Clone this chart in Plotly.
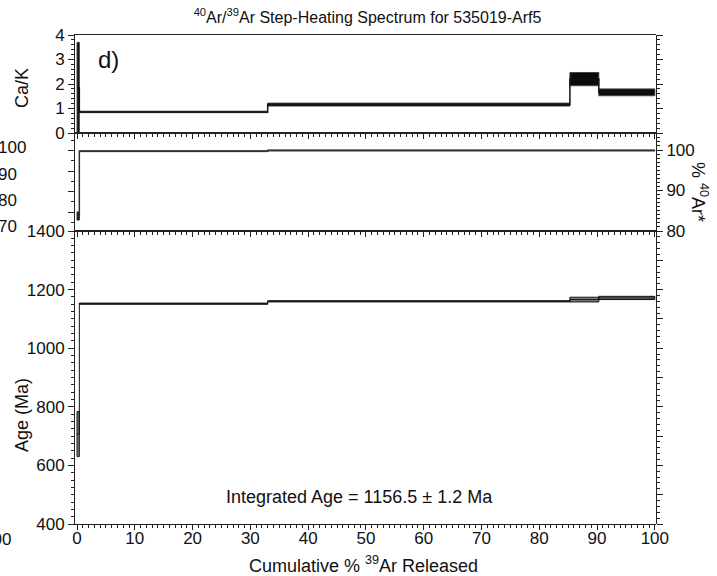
import plotly.graph_objects as go

# ---- data ----
cum_edges = [0.0, 0.4, 33.0, 85.3, 90.3, 100.0]   # cumulative % 39Ar released (step edges)
age_ma = [707, 1152, 1160, 1166, 1171.5]
age_err = [77, 2, 2, 8, 5.5]
pct_ar40 = [83.7, 99.7, 99.9, 99.9, 99.9]
pct_err = [1.0, 0.1, 0.1, 0.1, 0.1]
ca_k = [1.85, 0.86, 1.16, 2.2, 1.66]
ca_k_err = [1.85, 0.03, 0.06, 0.27, 0.14]
integrated_age = "Integrated Age = 1156.5 ± 1.2 Ma"

FONT = "Liberation Sans, Arial, sans-serif"
LINE = "#222222"


def boxes(edges, vals, errs):
    xs, ys = [], []
    for i, (v, e) in enumerate(zip(vals, errs)):
        x0, x1 = edges[i], edges[i + 1]
        lo, hi = v - e, v + e
        xs += [x0, x1, x1, x0, x0, None]
        ys += [lo, lo, hi, hi, lo, None]
    return xs, ys


def steps(edges, vals):
    return list(edges), list(vals) + [vals[-1]]


fig = go.Figure()

# Age panel (x, y)
bx, by = boxes(cum_edges, age_ma, age_err)
fig.add_trace(go.Scatter(x=bx, y=by, mode="lines", fill="toself", fillcolor="#808080",
                         line=dict(color="#111111", width=1), xaxis="x", yaxis="y", hoverinfo="skip"))
sx, sy = steps(cum_edges, age_ma)
fig.add_trace(go.Scatter(x=sx, y=sy, mode="lines", line=dict(color="#111111", width=1, shape="hv"),
                         xaxis="x", yaxis="y", hoverinfo="skip"))

# %40Ar* panel (x2, y2)
bx, by = boxes(cum_edges, pct_ar40, pct_err)
fig.add_trace(go.Scatter(x=bx, y=by, mode="lines", fill="toself", fillcolor="#111111",
                         line=dict(color="#333333", width=1), xaxis="x2", yaxis="y2", hoverinfo="skip"))
sx, sy = steps(cum_edges, pct_ar40)
fig.add_trace(go.Scatter(x=sx, y=sy, mode="lines", line=dict(color="#333333", width=1.5, shape="hv"),
                         xaxis="x2", yaxis="y2", hoverinfo="skip"))

# Ca/K panel (x3, y3)
bx, by = boxes(cum_edges, ca_k, ca_k_err)
fig.add_trace(go.Scatter(x=bx, y=by, mode="lines", fill="toself", fillcolor="#0a0a0a",
                         line=dict(color="#444444", width=1), xaxis="x3", yaxis="y3", hoverinfo="skip"))
sx, sy = steps(cum_edges, ca_k)
fig.add_trace(go.Scatter(x=sx, y=sy, mode="lines", line=dict(color="#111111", width=1.5, shape="hv"),
                         xaxis="x3", yaxis="y3", hoverinfo="skip"))

# invisible helper traces so the tick-only secondary axes render
for xa, ya, yv in [("x", "y4", 800), ("x2", "y5", 90), ("x3", "y6", 2), ("x2", "y7", 80)]:
    fig.add_trace(go.Scatter(x=[50], y=[yv], mode="markers", marker=dict(opacity=0),
                             xaxis=xa, yaxis=ya, hoverinfo="skip"))

W, H = 717, 576
ml, mr, mt, mb = 75, 61, 35, 52
ph = H - mt - mb
d_age = [0, (524 - 231) / ph]
d_pct = [d_age[1], (524 - 133) / ph]
d_cak = [d_pct[1], 1]

xr = [-0.35, 100.2]
tickfont = dict(family=FONT, size=17, color="#111111")

xcommon = dict(range=xr, showline=True, linecolor=LINE, linewidth=1, ticks="outside",
               ticklen=5, tickcolor=LINE, dtick=10, tick0=0, showgrid=False, zeroline=False,
               minor=dict(dtick=1, ticks="outside", ticklen=3, tickcolor=LINE), mirror=True,
               automargin=False)
ycommon = dict(showline=True, linecolor=LINE, linewidth=1, ticks="outside", ticklen=6,
               tickcolor=LINE, showgrid=False, zeroline=False, tickfont=tickfont,
               automargin=False)


def yax(**kw):
    d = dict(ycommon)
    d.update(kw)
    return d


fig.update_layout(
    width=W, height=H,
    margin=dict(l=ml, r=mr, t=mt, b=mb, autoexpand=False),
    paper_bgcolor="white", plot_bgcolor="rgba(0,0,0,0)",
    showlegend=False,
    font=dict(family=FONT, color="#111111"),
    title=dict(text="<sup>40</sup>Ar/<sup>39</sup>Ar Step-Heating Spectrum for 535019-Arf5",
               x=(ml + 581 / 2 + 2) / W, xanchor="center", y=1 - 17 / H, yanchor="middle",
               yref="container", font=dict(family=FONT, size=16, color="#111111")),
    xaxis=dict(**xcommon, anchor="y", domain=[0, 1], tickfont=tickfont, ticklabelstandoff=-6),
    xaxis2=dict(**xcommon, anchor="y2", matches="x", showticklabels=False),
    xaxis3=dict(**xcommon, anchor="y3", matches="x", showticklabels=False),
    yaxis=yax(domain=d_age, anchor="x", range=[400, 1400], dtick=200,
              minor=dict(dtick=25, ticks="outside", ticklen=3, tickcolor=LINE)),
    yaxis4=yax(domain=d_age, side="right", anchor="x", range=[400, 1400],
               dtick=100, showticklabels=False,
               minor=dict(dtick=20, ticks="outside", ticklen=3, tickcolor=LINE)),
    yaxis2=yax(domain=d_pct, anchor="x2", range=[80, 104.2], dtick=10,
               showticklabels=False, ticks="", showline=False),
    yaxis7=yax(domain=d_pct, anchor="x2", range=[60.7, 108.7], dtick=10,
               showticklabels=False,
               minor=dict(dtick=5, ticks="outside", ticklen=3, tickcolor=LINE)),
    yaxis5=yax(domain=d_pct, side="right", anchor="x2", range=[80, 104.2],
               dtick=10, minor=dict(dtick=1, ticks="outside", ticklen=3, tickcolor=LINE)),
    yaxis3=yax(domain=d_cak, anchor="x3", range=[0, 4], dtick=1,
               minor=dict(dtick=0.2, ticks="outside", ticklen=3, tickcolor=LINE)),
    yaxis6=yax(domain=d_cak, side="right", anchor="x3", range=[0, 4], dtick=1,
               showticklabels=False,
               minor=dict(dtick=0.2, ticks="outside", ticklen=3, tickcolor=LINE)),
)


def py(pix):
    return (524 - pix) / ph


def px(pix):
    return (pix - ml) / 581


ann = [
    dict(text="Ca/K", x=px(22), y=py(88), textangle=-90, size=18),
    dict(text="Age (Ma)", x=px(22), y=py(415), textangle=-90, size=18),
    dict(text="% <sup>40</sup>Ar*", x=px(700), y=py(192), textangle=90, size=18),
    dict(text="Cumulative % <sup>39</sup>Ar Released", x=px(363), y=py(564), textangle=0, size=18),
]
for a in ann:
    fig.add_annotation(text=a["text"], x=a["x"], y=a["y"], xref="paper", yref="paper",
                       textangle=a["textangle"], showarrow=False, xanchor="center", yanchor="middle",
                       font=dict(family=FONT, size=a["size"], color="#111111"))

# "d)" panel label
fig.add_annotation(text="d)", x=3.3, y=2.98, xref="x3", yref="y3", showarrow=False,
                   xanchor="left", yanchor="middle", font=dict(family=FONT, size=24, color="#111111"))

# integrated age
fig.add_annotation(text=integrated_age, x=48.8, y=492, xref="x", yref="y", showarrow=False,
                   xanchor="center", yanchor="middle", font=dict(family=FONT, size=18, color="#111111"))

# cut-off labels from the neighbouring panel at the left edge
for t, ypix in [("100", 147.5), ("90", 174), ("80", 200.5), ("70", 227)]:
    fig.add_annotation(text=t, x=px(-3), y=py(ypix), xref="paper", yref="paper", showarrow=False,
                       xanchor="left", yanchor="middle", borderpad=0,
                       font=dict(family=FONT, size=17, color="#111111"))
fig.add_annotation(text="100", x=px(12), y=py(539), xref="paper", yref="paper", showarrow=False,
                   xanchor="right", yanchor="middle", borderpad=0,
                   font=dict(family=FONT, size=17, color="#111111"))

fig.write_html("out.html")
